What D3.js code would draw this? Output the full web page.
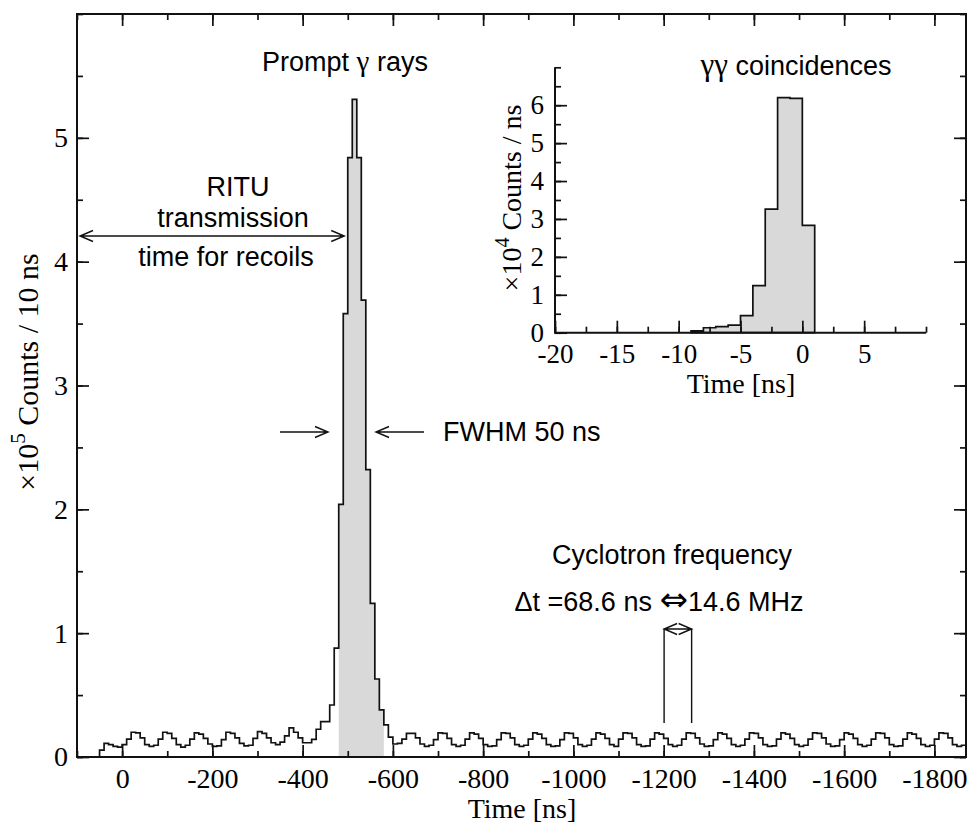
<!DOCTYPE html>
<html><head><meta charset="utf-8">
<script src="https://cdn.jsdelivr.net/npm/d3@7"></script>
<style>
body{margin:0;background:#fff}
text{fill:#000}
</style>
</head><body>
<svg id="c" width="968" height="823"></svg>
<script>
// ---------------- data ----------------
// main spectrum: 10 ns bins, first bin starts at +50 ns and time runs to negative values
const binStart = 50;
const binWidth = 10;
// counts in units of 1e5 counts / 10 ns
const mainCounts = [
 0.055,0.11,0.10,0.085,0.08,0.10,0.145,0.20,0.195,0.155,
 0.10,0.085,0.095,0.145,0.20,0.19,0.15,0.10,0.08,0.095,
 0.145,0.195,0.185,0.15,0.105,0.085,0.09,0.14,0.20,0.19,
 0.155,0.11,0.09,0.095,0.15,0.205,0.19,0.155,0.115,0.10,
 0.12,0.17,0.235,0.20,0.155,0.115,0.115,0.143,0.224,0.285,
 0.285,0.42,0.88,2.04,3.58,4.84,5.31,4.84,3.69,2.32,
 1.24,0.63,0.38,0.26,0.16,0.105,0.11,0.145,0.19,0.19,
 0.155,0.105,0.085,0.095,0.14,0.195,0.19,0.15,0.10,0.085,
 0.095,0.145,0.195,0.185,0.15,0.10,0.085,0.09,0.14,0.195,
 0.19,0.155,0.10,0.085,0.095,0.145,0.195,0.185,0.15,0.10,
 0.085,0.09,0.14,0.195,0.19,0.155,0.10,0.085,0.095,0.145,
 0.195,0.185,0.15,0.10,0.085,0.145,0.195,0.19,0.155,0.10,
 0.085,0.09,0.145,0.195,0.185,0.15,0.10,0.085,0.095,0.145,
 0.195,0.19,0.155,0.105,0.085,0.09,0.14,0.195,0.185,0.15,
 0.10,0.085,0.095,0.145,0.195,0.19,0.155,0.10,0.085,0.09,
 0.145,0.195,0.185,0.15,0.10,0.085,0.095,0.145,0.195,0.19,
 0.155,0.105,0.085,0.09,0.14,0.195,0.185,0.15,0.10,0.085,
 0.095,0.145,0.195,0.19,0.155,0.10,0.085,0.09,0.145,0.195,
 0.185,0.15,0.10,0.085,0.095,0.145,0.195,0.19,0.155,0.10,
 0.085,0.095
];
const shadeFrom = -480, shadeTo = -580;   // shaded prompt window (ns)
const mainXDomain = [100, -1870];
const mainYDomain = [0, 6];
const mainXTicks = [0,-200,-400,-600,-800,-1000,-1200,-1400,-1600,-1800];
const mainXMinor = d3.range(100, -1871, -100);
const mainYTicks = [0,1,2,3,4,5];
const mainYMinor = d3.range(0, 6.01, 0.5);

// inset: gamma-gamma coincidences, 1 ns bins
const insetBinStarts = [-9,-8,-7,-6,-5,-4,-3,-2,-1,0];
const insetCounts = [0.05,0.13,0.16,0.20,0.45,1.24,3.26,6.20,6.18,2.83]; // 1e4 counts / ns
const insetXDomain = [-20, 10];
const insetYDomain = [0, 7];
const insetXTicks = [-20,-15,-10,-5,0,5];
const insetXMinor = d3.range(-20, 10.01, 2.5);
const insetYTicks = [0,1,2,3,4,5,6];
const insetYMinor = d3.range(0, 7.01, 0.5);

// annotation positions in data units
const cycloT = [-1201, -1262];

// ---------------- drawing ----------------
const svg = d3.select("#c");
const INK = "#111";
const SERIF = "'Liberation Serif','Times New Roman',serif";
const SANS = "'Liberation Sans',Arial,Helvetica,sans-serif";
const GREY = "#d9d9d9";
const SF = 27; // sans font size

const L = 77, R = 966, T = 14, B = 757;
const x = d3.scaleLinear().domain(mainXDomain).range([L, R]);
const y = d3.scaleLinear().domain(mainYDomain).range([B, T]);

// shaded area
const nb = mainCounts.length;
const bins = mainCounts.map((v,i)=>({t: binStart - i*binWidth, v}));
const shadeBins = bins.filter(d => d.t <= shadeFrom && d.t > shadeTo);
const shadePts = shadeBins.concat([{t: shadeTo, v: shadeBins[shadeBins.length-1].v}]);
svg.append("path")
  .attr("d", d3.area().x(d=>x(d.t)).y0(y(0)).y1(d=>y(d.v)).curve(d3.curveStepAfter)(shadePts))
  .attr("fill", GREY).attr("stroke","none");

// histogram outline
const linePts = [{t: mainXDomain[0], v: 0}].concat(bins, [{t: binStart - nb*binWidth, v: mainCounts[nb-1]}]);
svg.append("path")
  .attr("d", d3.line().x(d=>x(d.t)).y(d=>y(d.v)).curve(d3.curveStepAfter)(linePts))
  .attr("fill","none").attr("stroke",INK).attr("stroke-width",1.7);

// axes helper
function styleAxis(g, fontSize, font){
  g.select(".domain").remove();
  g.selectAll(".tick line").attr("stroke", INK).attr("stroke-width", 1.7);
  g.selectAll(".tick text").attr("font-family", font).attr("font-size", fontSize).attr("fill","#000");
}
const fmt = d => String(d);
// main bottom
svg.append("g").attr("transform",`translate(0,${B})`)
  .call(d3.axisBottom(x).tickValues(mainXMinor).tickSize(-6).tickFormat(""))
  .call(g=>styleAxis(g,28,SERIF));
svg.append("g").attr("transform",`translate(0,${B})`)
  .call(d3.axisBottom(x).tickValues(mainXTicks).tickSize(-12).tickPadding(11).tickFormat(fmt))
  .call(g=>styleAxis(g,28,SERIF));
// main top
svg.append("g").attr("transform",`translate(0,${T})`)
  .call(d3.axisTop(x).tickValues(mainXMinor).tickSize(-6).tickFormat(""))
  .call(g=>styleAxis(g,28,SERIF));
svg.append("g").attr("transform",`translate(0,${T})`)
  .call(d3.axisTop(x).tickValues(mainXTicks).tickSize(-12).tickFormat(""))
  .call(g=>styleAxis(g,28,SERIF));
// main left
svg.append("g").attr("transform",`translate(${L},0)`)
  .call(d3.axisLeft(y).tickValues(mainYMinor).tickSize(-6).tickFormat(""))
  .call(g=>styleAxis(g,28,SERIF));
svg.append("g").attr("transform",`translate(${L},0)`)
  .call(d3.axisLeft(y).tickValues(mainYTicks).tickSize(-12).tickPadding(9).tickFormat(fmt))
  .call(g=>styleAxis(g,28,SERIF));
// main right
svg.append("g").attr("transform",`translate(${R},0)`)
  .call(d3.axisRight(y).tickValues(mainYMinor).tickSize(-6).tickFormat(""))
  .call(g=>styleAxis(g,28,SERIF));
svg.append("g").attr("transform",`translate(${R},0)`)
  .call(d3.axisRight(y).tickValues(mainYTicks).tickSize(-12).tickFormat(""))
  .call(g=>styleAxis(g,28,SERIF));
// frame
svg.append("rect").attr("x",L).attr("y",T).attr("width",R-L).attr("height",B-T)
  .attr("fill","none").attr("stroke",INK).attr("stroke-width",2);

// axis titles
svg.append("text").attr("x",522).attr("y",818).attr("text-anchor","middle")
  .attr("font-family",SERIF).attr("font-size",28).text("Time [ns]");
const yl = svg.append("text").attr("transform","translate(38,372) rotate(-90)")
  .attr("text-anchor","middle").attr("font-family",SERIF).attr("font-size",30);
yl.append("tspan").text("×10");
yl.append("tspan").attr("dy",-13).attr("font-size",21).text("5");
yl.append("tspan").attr("dy",13).text(" Counts / 10 ns");

// annotations
function arrowHead(px,py,dx,dy){ // tip at px,py, pointing in direction dx,dy
  const len=13, w=5.5, n=Math.hypot(dx,dy), ux=dx/n, uy=dy/n;
  const bx=px-ux*len, by=py-uy*len;
  return `M${bx-uy*w},${by+ux*w}L${px},${py}L${bx+uy*w},${by-ux*w}`;
}
function arrow(x1,y1,x2,y2,startHead,endHead){
  let d=`M${x1},${y1}L${x2},${y2}`;
  if(endHead) d+=arrowHead(x2,y2,x2-x1,y2-y1);
  if(startHead) d+=arrowHead(x1,y1,x1-x2,y1-y2);
  svg.append("path").attr("d",d).attr("fill","none").attr("stroke",INK).attr("stroke-width",1.4);
}
function sans(tx,ty,str,anchor){
  return svg.append("text").attr("x",tx).attr("y",ty).attr("text-anchor",anchor||"middle")
    .attr("font-family",SANS).attr("font-size",SF).text(str);
}
// Prompt gamma rays
const pg = svg.append("text").attr("x",345).attr("y",71).attr("text-anchor","middle")
  .attr("font-family",SANS).attr("font-size",SF);
pg.append("tspan").text("Prompt ");
pg.append("tspan").attr("font-family",SERIF).attr("font-size",29).text("γ");
pg.append("tspan").text(" rays");
// RITU
sans(238,196,"RITU");
sans(233,227,"transmission");
sans(226,266,"time for recoils");
arrow(x(100)+3,236,x(-490)+1,236,true,true);
// FWHM
arrow(280,432,328,432,false,true);
arrow(424,432,376,432,false,true);
sans(443,441,"FWHM 50 ns","start");
// cyclotron
sans(672,564,"Cyclotron frequency");
const dt = svg.append("text").attr("x",659).attr("y",611).attr("text-anchor","middle")
  .attr("font-family",SANS).attr("font-size",SF);
dt.append("tspan").text("Δt =68.6 ns ");
dt.append("tspan").attr("font-family","'DejaVu Sans',sans-serif").attr("font-size",34).text("⇔");
dt.append("tspan").text("14.6 MHz");
const cx1 = x(cycloT[0]), cx2 = x(cycloT[1]);
svg.append("path").attr("d",`M${cx1},629L${cx1},723M${cx2},629L${cx2},723`)
  .attr("stroke",INK).attr("stroke-width",1.4).attr("fill","none");
arrow(cx1,629,cx2,629,true,true);

// ---------------- inset ----------------
const iL=555, iR=926, iT=67.3, iB=332.7;
const xi = d3.scaleLinear().domain(insetXDomain).range([iL,iR]);
const yi = d3.scaleLinear().domain(insetYDomain).range([iB,iT]);
const ib = insetBinStarts.map((t,i)=>({t, v: insetCounts[i]}));
const ipts = ib.concat([{t: insetBinStarts[insetBinStarts.length-1]+1, v: insetCounts[insetCounts.length-1]}]);
svg.append("path")
  .attr("d", d3.area().x(d=>xi(d.t)).y0(yi(0)).y1(d=>yi(d.v)).curve(d3.curveStepAfter)(ipts))
  .attr("fill",GREY).attr("stroke",INK).attr("stroke-width",1.7);

svg.append("g").attr("transform",`translate(0,${iB})`)
  .call(d3.axisBottom(xi).tickValues(insetXMinor).tickSize(-6).tickFormat(""))
  .call(g=>styleAxis(g,28,SERIF));
svg.append("g").attr("transform",`translate(0,${iB})`)
  .call(d3.axisBottom(xi).tickValues(insetXTicks).tickSize(-12).tickPadding(11).tickFormat(fmt))
  .call(g=>styleAxis(g,27,SERIF));
svg.append("g").attr("transform",`translate(${iL},0)`)
  .call(d3.axisLeft(yi).tickValues(insetYMinor).tickSize(-6).tickFormat(""))
  .call(g=>styleAxis(g,28,SERIF));
svg.append("g").attr("transform",`translate(${iL},0)`)
  .call(d3.axisLeft(yi).tickValues(insetYTicks).tickSize(-12).tickPadding(11).tickFormat(fmt))
  .call(g=>styleAxis(g,27,SERIF));
svg.append("path").attr("d",`M${iL},${iT}L${iL},${iB}L${iR},${iB}`)
  .attr("fill","none").attr("stroke",INK).attr("stroke-width",2);

svg.append("text").attr("x",741).attr("y",393).attr("text-anchor","middle")
  .attr("font-family",SERIF).attr("font-size",28).text("Time [ns]");
const iyl = svg.append("text").attr("transform","translate(521,198) rotate(-90)")
  .attr("text-anchor","middle").attr("font-family",SERIF).attr("font-size",28);
iyl.append("tspan").text("×10");
iyl.append("tspan").attr("dy",-12).attr("font-size",20).text("4");
iyl.append("tspan").attr("dy",12).text(" Counts / ns");
const it = svg.append("text").attr("x",796).attr("y",75).attr("text-anchor","middle")
  .attr("font-family",SANS).attr("font-size",SF);
it.append("tspan").attr("font-family",SERIF).attr("font-size",31).text("γγ");
it.append("tspan").text(" coincidences");
</script>
</body></html>
